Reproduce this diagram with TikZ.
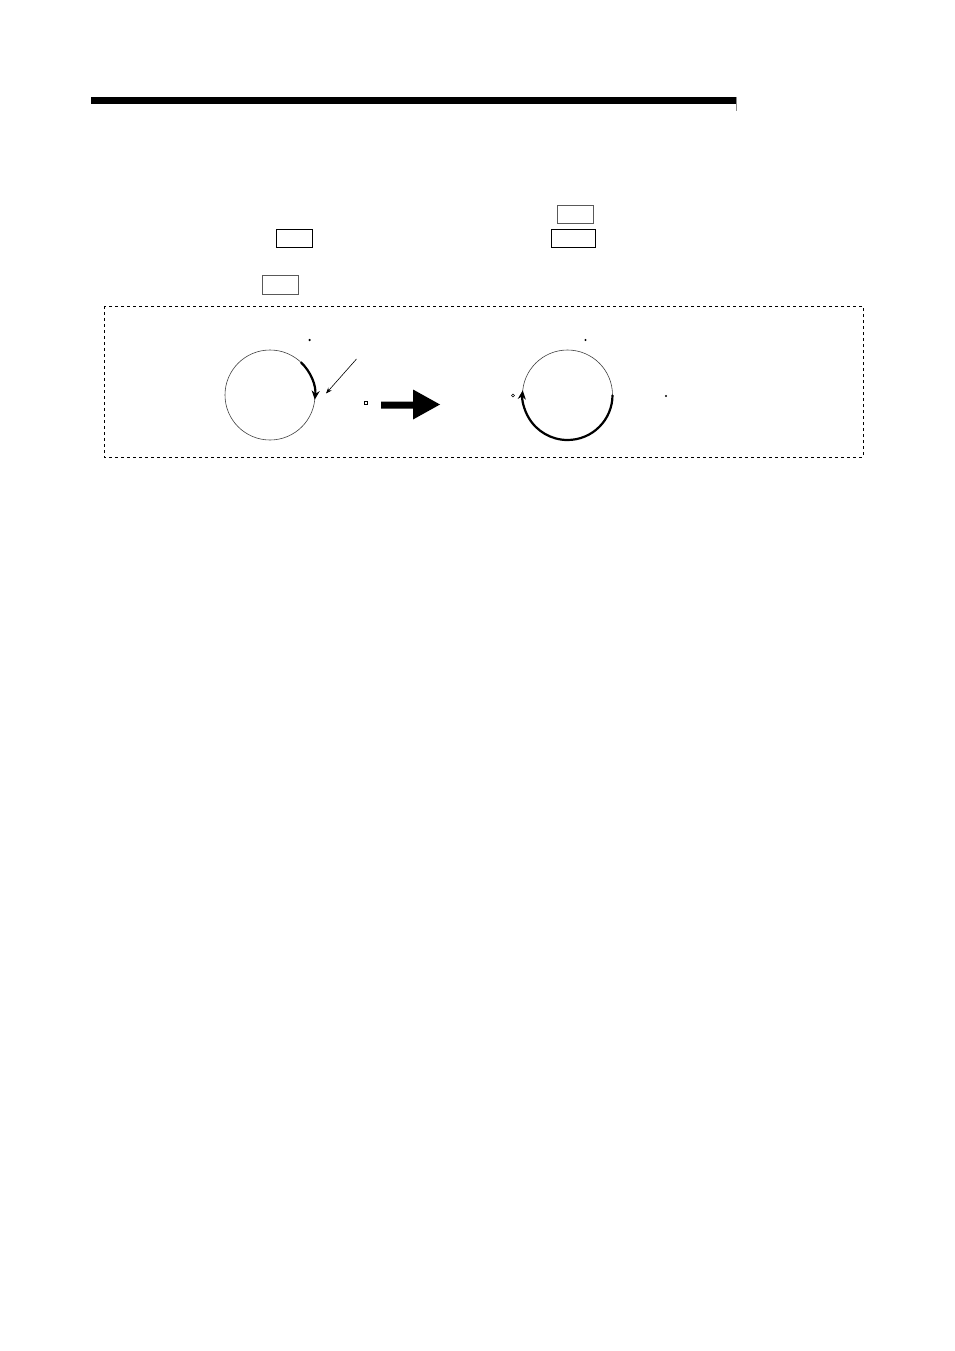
\documentclass[tikz,border=0pt]{standalone}
\usetikzlibrary{arrows.meta,calc}
\tikzset{
  kbox/.style={draw=black, line width=0.9pt},
  gbox/.style={draw=black!65, line width=0.9pt},
  ring/.style={draw=black!75, line width=0.6pt},
  thickarc/.style={line width=2.2pt, -{Stealth[length=9pt,width=8pt]}},
  dot/.style={fill=black, inner sep=0pt, minimum size=2.2pt, circle},
  hollow/.style={draw=black, line width=0.5pt, inner sep=0pt, minimum size=3pt, rectangle},
}
\begin{document}
\begin{tikzpicture}[x=1pt,y=-1pt]
\useasboundingbox (0,0) rectangle (954,1351);
% header bar
\fill (91,97) rectangle (736,104);
\draw[black!45, line width=0.8pt] (736.5,97) -- (736.5,111);
% key boxes
\draw[gbox] (557.5,205) rectangle (593.5,223.5);
\draw[kbox] (276,229) rectangle (312.5,247.5);
\draw[kbox] (551,229) rectangle (595.5,247.5);
\draw[gbox] (262,275) rectangle (298,294);
% dashed frame
\draw[dashed, line width=0.8pt] (104,306) rectangle (863,457);
% left circle (y axis points down: angles are mirrored)
\coordinate (c1) at (270,395);
\draw[ring] (c1) circle[radius=45];
\draw[thickarc] ($(c1)+(-47:45)$) arc[start angle=-47, end angle=6, radius=45];
\coordinate (p1) at (356.5,359);
\coordinate (p2) at (326,393.5);
\draw[line width=0.6pt, -{Stealth[length=6pt,width=4.5pt]}] (p1) -- (p2);
\node[dot, minimum size=2.5pt] (d1) at (309.5,340) {};
\node[hollow] (d2) at (366,402.5) {};
% block arrow
\fill (381,401.5) -- (413,401.5) -- (413,389.5) -- (440,404.5) -- (413,419.5) -- (413,408.5) -- (381,408.5) -- cycle;
% right circle
\coordinate (c2) at (567.5,395);
\draw[ring] (c2) circle[radius=45];
\draw[thickarc] ($(c2)+(0:45)$) arc[start angle=0, end angle=186, radius=45];
\node[dot] (d3) at (585.5,340) {};
\node[draw, circle, line width=0.5pt, inner sep=0pt, minimum size=3pt] (d4) at (513,395.5) {};
\node[dot] (d5) at (666,396) {};
\end{tikzpicture}
\end{document}
